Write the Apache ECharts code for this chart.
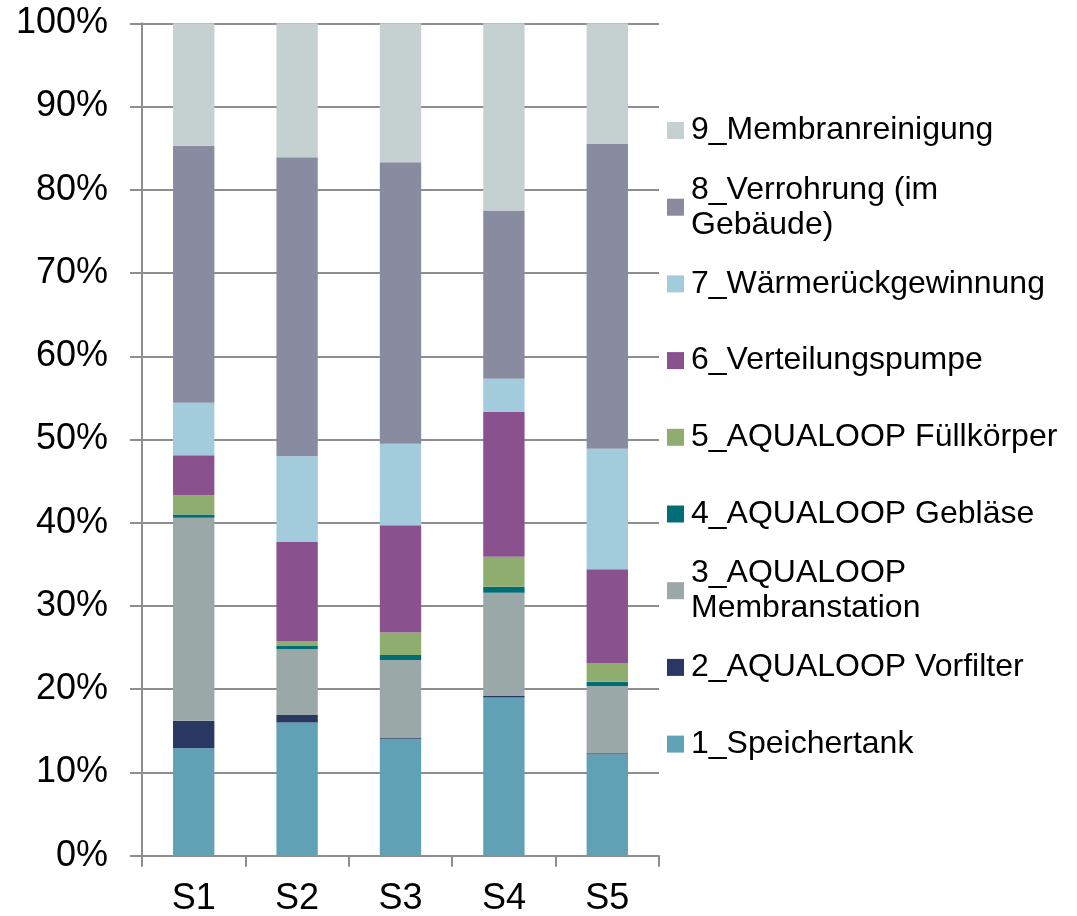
<!DOCTYPE html>
<html>
<head>
<meta charset="utf-8">
<script src="https://cdn.jsdelivr.net/npm/echarts@6/dist/echarts.min.js"></script>
<style>
  html, body { margin: 0; padding: 0; background: #ffffff; }
  #chart { width: 1077px; height: 916px; }
</style>
</head>
<body>
<div id="chart"></div>
<script>
// Cost shares per system variant (percent of total)
const categories = ['S1', 'S2', 'S3', 'S4', 'S5'];

const speichertank         = [12.9, 16.0, 14.05, 19.0, 12.2];
const vorfilter            = [3.3, 0.9, 0.15, 0.2, 0.1];
const membranstation       = [24.4, 7.9, 9.3, 12.4, 8.1];
const geblaese             = [0.4, 0.4, 0.6, 0.7, 0.5];
const fuellkoerper         = [2.3, 0.6, 2.7, 3.6, 2.2];
const verteilungspumpe     = [4.8, 11.9, 12.9, 17.4, 11.3];
const waermerueckgewinnung = [6.3, 10.3, 9.8, 4.0, 14.5];
const verrohrung           = [30.9, 35.9, 33.8, 20.2, 36.6];
const membranreinigung     = [14.7, 16.1, 16.7, 22.5, 14.5];

const seriesNames = [
  '1_Speichertank',
  '2_AQUALOOP Vorfilter',
  '3_AQUALOOP Membranstation',
  '4_AQUALOOP Gebläse',
  '5_AQUALOOP Füllkörper',
  '6_Verteilungspumpe',
  '7_Wärmerückgewinnung',
  '8_Verrohrung (im Gebäude)',
  '9_Membranreinigung'
];

// Legend text as it wraps in the side panel
const legendLabels = {
  '3_AQUALOOP Membranstation': '3_AQUALOOP\nMembranstation',
  '8_Verrohrung (im Gebäude)': '8_Verrohrung (im\nGebäude)'
};

const seriesValues = [
  speichertank, vorfilter, membranstation, geblaese, fuellkoerper,
  verteilungspumpe, waermerueckgewinnung, verrohrung, membranreinigung
];

const colors = [
  '#61a1b6', '#283862', '#9aa8a8', '#016d76', '#8fad6f',
  '#89528f', '#a2cbdb', '#898ca0', '#c5d1d1'
];

const FONT = '"Liberation Sans", Arial, sans-serif';
const GRID_COLOR = '#8e8e8e';

const chart = echarts.init(document.getElementById('chart'), null, { renderer: 'canvas' });

const series = seriesNames.map((name, i) => ({
  name: name,
  type: 'bar',
  stack: 'total',
  barWidth: '40%',
  data: seriesValues[i],
  itemStyle: { color: colors[i] },
  emphasis: { disabled: true }
}));

// One legend block per entry, listed top-down from 9 to 1.
const LEGEND_LINE = 35;
const legendStart = 130.5;
const legendStep = 76.7;
const legends = seriesNames.slice().reverse().map((name, k) => {
  const wrapped = !!legendLabels[name];
  const center = legendStart + k * legendStep;
  const blockH = wrapped ? 3 * LEGEND_LINE : LEGEND_LINE;
  return {
    data: [name],
    orient: 'vertical',
    left: 667,
    top: center - blockH / 2,
    padding: 0,
    itemWidth: 17,
    itemHeight: 17,
    icon: 'rect',
    selectedMode: false,
    formatter: (n) => legendLabels[n] || n,
    textStyle: {
      fontFamily: FONT,
      fontSize: 32,
      color: '#000000',
      lineHeight: LEGEND_LINE,
      padding: wrapped ? [LEGEND_LINE, 0, 0, 2] : [0, 0, 0, 2]
    }
  };
});

chart.setOption({
  backgroundColor: '#ffffff',
  animation: false,
  color: colors,
  grid: {
    left: 142,
    right: 418,
    top: 23.3,
    bottom: 60.3,
    containLabel: false,
    outerBoundsMode: 'none'
  },
  legend: legends,
  xAxis: {
    type: 'category',
    data: categories,
    axisLine: { show: true, lineStyle: { color: GRID_COLOR, width: 2 } },
    axisTick: { show: true, length: 11, lineStyle: { color: GRID_COLOR, width: 2 } },
    axisLabel: {
      fontFamily: FONT,
      fontSize: 36,
      color: '#000000',
      margin: 25
    },
    splitLine: { show: false }
  },
  yAxis: {
    type: 'value',
    min: 0,
    max: 100,
    interval: 10,
    axisLine: { show: true, lineStyle: { color: GRID_COLOR, width: 2 } },
    axisTick: { show: true, inside: false, length: 12, lineStyle: { color: GRID_COLOR, width: 2 } },
    axisLabel: {
      fontFamily: FONT,
      fontSize: 36,
      color: '#000000',
      margin: 34,
      formatter: '{value}%'
    },
    splitLine: { show: true, lineStyle: { color: GRID_COLOR, width: 2 } }
  },
  series: series
});
</script>
</body>
</html>
